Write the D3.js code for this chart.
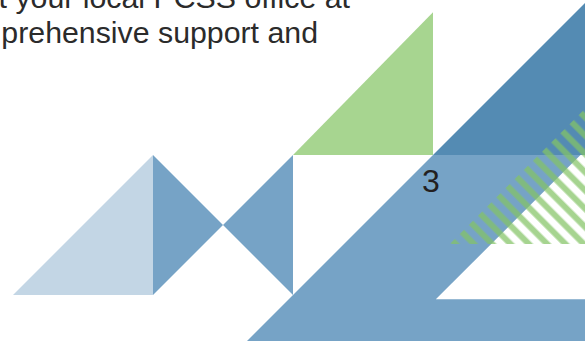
<!DOCTYPE html>
<html>
<head>
<meta charset="utf-8">
<script src="https://cdn.jsdelivr.net/npm/d3@7"></script>
<style>
  body { margin: 0; background: #fff; }
  svg { display: block; }
</style>
</head>
<body>
<div id="page"></div>
<script>
// shapes in grid units (1 unit = one triangle leg / 2)
const shapeNames = ["bigBlue", "whiteCut", "darkBlue", "lightTri", "bowLeft", "bowRight", "greenTri"];
const shapeFills = ["#76a3c6", "#ffffff", "#548bb3", "#c3d6e5", "#76a3c6", "#76a3c6", "#a7d590"];
const shapePoints = [
  [[6, 2], [8.5, 2], [8.5, -0.66], [3.34, -0.66]],
  [[6.04, -0.06], [8.5, -0.06], [8.5, 2.39]],
  [[6, 2], [8.3, 4.3], [8.5, 4.3], [8.5, 2]],
  [[0, 0], [2, 0], [2, 2]],
  [[2, 0], [2, 2], [3, 1]],
  [[3, 1], [4, 2], [4, 0]],
  [[4, 2], [6, 2], [6, 4.04]]
];
const stripeArea = [[6.24, 0.73], [8.5, 0.73], [8.5, 2.99]];

const textLines = ["ct your local PCSS office at", "comprehensive support and"];
const pageNumber = "3";

const W = 585, H = 341;

const x = d3.scaleLinear().domain([0, 1]).range([13, 83]);
const y = d3.scaleLinear().domain([0, 1]).range([295, 225]);

const svg = d3.select("#page")
  .append("svg")
  .attr("width", W)
  .attr("height", H);

const defs = svg.append("defs");

//------motif de hachures vertes
const pat = defs.append("pattern")
  .attr("id", "hatch")
  .attr("patternUnits", "userSpaceOnUse")
  .attr("width", 12.94)
  .attr("height", 12.94)
  .attr("patternTransform", "rotate(-45)");
pat.append("rect")
  .attr("x", 4.35)
  .attr("y", 0)
  .attr("width", 6)
  .attr("height", 12.94)
  .attr("fill", "#84c466")
  .attr("fill-opacity", 0.72);

const line = d3.line().x(d => x(d[0])).y(d => y(d[1]));

//------triangles
svg.append("g")
  .selectAll("path")
  .data(shapePoints)
  .join("path")
  .attr("class", (d, i) => shapeNames[i])
  .attr("d", d => line(d) + "Z")
  .attr("fill", (d, i) => shapeFills[i]);

//------hachures
svg.append("path")
  .attr("d", line(stripeArea) + "Z")
  .attr("fill", "url(#hatch)");

//------texte du haut
svg.append("g")
  .selectAll("text")
  .data(textLines)
  .join("text")
  .attr("x", (d, i) => i == 0 ? 350 : 318)
  .attr("y", (d, i) => 8 + i * 35)
  .attr("text-anchor", "end")
  .attr("font-family", "Liberation Sans, Arial, sans-serif")
  .attr("font-size", 30.3)
  .attr("fill", "#2b2b2b")
  .text(d => d);

//------numéro de page
svg.append("text")
  .attr("x", 431)
  .attr("y", 192)
  .attr("text-anchor", "middle")
  .attr("font-family", "Liberation Sans, Arial, sans-serif")
  .attr("font-size", 32)
  .attr("fill", "#231f20")
  .text(pageNumber);
</script>
</body>
</html>
